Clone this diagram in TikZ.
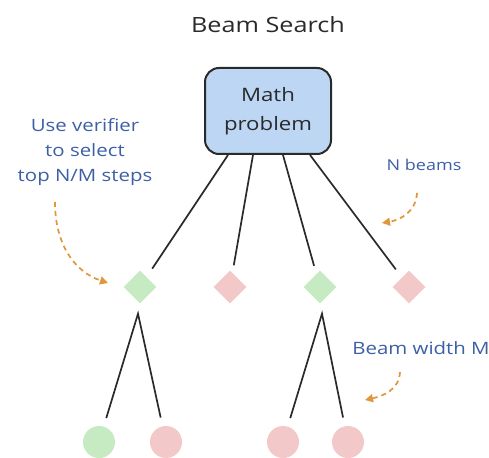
\documentclass[tikz,border=0pt]{standalone}
\usepackage{fontspec}
\setmainfont{Open Sans}[FakeStretch=1.2]
\usetikzlibrary{shapes.geometric,calc,arrows.meta}
\definecolor{boxblue}{HTML}{BDD6F4}
\definecolor{edge}{HTML}{2A2A2A}
\definecolor{okgreen}{HTML}{C6EBC2}
\definecolor{badred}{HTML}{F3C8C8}
\definecolor{notes}{HTML}{3D5FA6}
\definecolor{hint}{HTML}{E0963A}
\tikzset{
  probbox/.style={draw=edge, line width=2pt, fill=boxblue, rounded corners=14pt,
    minimum width=126pt, minimum height=86pt, align=center, font=\fontsize{18.5}{29}\selectfont, text=edge},
  gdiam/.style={diamond, fill=okgreen, minimum size=33pt, inner sep=0pt},
  rdiam/.style={diamond, fill=badred, minimum size=33pt, inner sep=0pt},
  gdot/.style={circle, fill=okgreen, minimum size=32pt, inner sep=0pt},
  rdot/.style={circle, fill=badred, minimum size=32pt, inner sep=0pt},
  branch/.style={draw=edge, line width=1.7pt},
  note/.style={text=notes, align=center, font=\fontsize{17}{25}\selectfont},
  hintarrow/.style={draw=hint, line width=1.7pt, dash pattern=on 5pt off 4pt, -{Triangle[length=8pt,width=8pt]}},
}
\begin{document}
\begin{tikzpicture}[x=1pt,y=-1pt]
\useasboundingbox (0,0) rectangle (489,457);
\node[text=edge, font=\fontsize{21}{24}\selectfont] (title) at (268,25) {Beam Search};
\node[probbox] (math) at (268,111) {Math\\problem};
% first level
\node[gdiam] (d1) at (140,287) {};
\node[rdiam] (d2) at (230,287) {};
\node[gdiam] (d3) at (320,287) {};
\node[rdiam] (d4) at (409,287) {};
\draw[branch, shorten >=22pt] ($(math.south)+(-40,0)$) -- (d1.center);
\draw[branch, shorten >=22pt] ($(math.south)+(-15,0)$) -- (d2.center);
\draw[branch, shorten >=22pt] ($(math.south)+(15,0)$) -- (d3.center);
\draw[branch, shorten >=22pt] ($(math.south)+(42,0)$) -- (d4.center);
% second level
\node[gdot] (c1) at (99,442) {};
\node[rdot] (c2) at (166,442) {};
\node[rdot] (c3) at (283,442) {};
\node[rdot] (c4) at (348,442) {};
\coordinate (p1) at ($(d1.south)+(-2,10)$);
\coordinate (p3) at ($(d3.south)+(2,10)$);
\draw[branch, shorten >=25pt, shorten <=25pt] (c1.center) -- (p1) -- (c2.center);
\draw[branch, shorten >=25pt, shorten <=25pt] (c3.center) -- (p3) -- (c4.center);
% notes
\node[note] (verif) at (85,152) {Use verifier\\to select\\top N/M steps};
\node[note, font=\fontsize{15}{20}\selectfont] (nbeams) at (424,165) {N beams};
\node[note] (bwidth) at (421,348) {Beam width M};
\coordinate (a1s) at (55,202);
\coordinate (a1e) at (108,283);
\coordinate (a2s) at (417,193);
\coordinate (a2e) at (382,223);
\coordinate (a3s) at (400,372);
\coordinate (a3e) at (365,400);
\draw[hintarrow] (a1s) .. controls (55,245) and (75,272) .. (a1e);
\draw[hintarrow] (a2s) .. controls (416,212) and (400,220) .. (a2e);
\draw[hintarrow] (a3s) .. controls (399,390) and (383,396) .. (a3e);
\end{tikzpicture}
\end{document}
